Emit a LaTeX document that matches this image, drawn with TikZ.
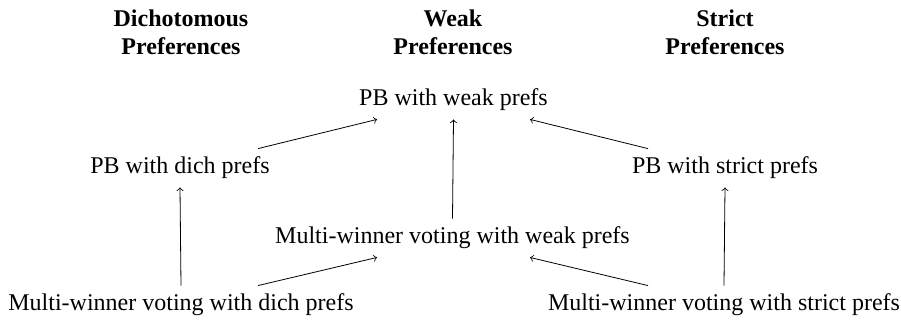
\documentclass[tikz,border=0pt]{standalone}
\usepackage{fontspec}
\setmainfont{Liberation Serif}
\usetikzlibrary{calc}
\begin{document}
\begin{tikzpicture}[x=0.5pt,y=-0.5pt,
  lbl/.style={inner sep=4pt,font=\fontsize{12pt}{14pt}\selectfont},
  hdr/.style={inner sep=0pt,align=center,font=\fontsize{12pt}{14pt}\selectfont\bfseries},
  arr/.style={->,line width=0.4pt}]
\useasboundingbox (0,0) rectangle (901,323);
\node[hdr] (hd) at (181,32) {Dichotomous\\Preferences};
\node[hdr] (hw) at (453,32) {Weak\\Preferences};
\node[hdr] (hs) at (725,32) {Strict\\Preferences};
\node[lbl] (pbw) at (453.5,100) {PB with weak prefs};
\node[lbl] (pbd) at (180,168) {PB with dich prefs};
\node[lbl] (pbs) at (725,168) {PB with strict prefs};
\node[lbl] (mww) at (452.5,238) {Multi-winner voting with weak prefs};
\node[lbl] (mwd) at (181,305) {Multi-winner voting with dich prefs};
\node[lbl] (mws) at (724,305) {Multi-winner voting with strict prefs};
\draw[arr] (mwd.north) -- (pbd.south);
\draw[arr] (mws.north) -- (pbs.south);
\draw[arr] (mww.north) -- (pbw.south);
\draw[arr] ($(mwd.north)+(77,0)$) -- ($(mww.south)+(-75.5,0)$);
\draw[arr] ($(mws.north)+(-76,0)$) -- ($(mww.south)+(77.5,0)$);
\draw[arr] ($(pbd.north)+(78,0)$) -- ($(pbw.south)+(-76.5,0)$);
\draw[arr] ($(pbs.north)+(-77,0)$) -- ($(pbw.south)+(76.5,0)$);
\end{tikzpicture}
\end{document}
